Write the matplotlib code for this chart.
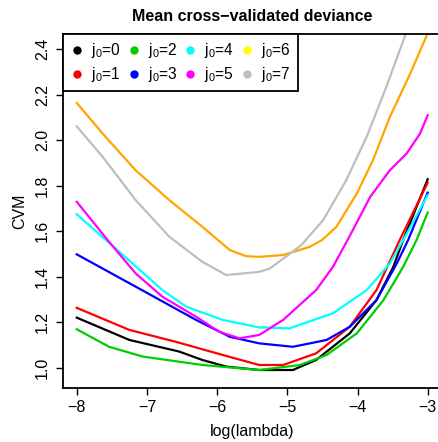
import matplotlib.pyplot as plt
from matplotlib.lines import Line2D

plt.rcParams['font.family'] = ['Liberation Sans', 'DejaVu Sans']
plt.rcParams['mathtext.fontset'] = 'custom'
plt.rcParams['mathtext.rm'] = 'Liberation Sans'

labels = ['0', '1', '2', '3', '4', '5', '6', '7']
legend_colors = ['black', 'red', '#00CD00', 'blue', 'cyan', 'magenta', 'yellow', '#BEBEBE']

# curves (log(lambda), CVM)
x0 = [-8, -7.25, -6.54, -6.21, -5.87, -5.4, -4.92, -4.78, -4.59, -4.11, -3.73, -3.49, -3.35, -3.0]
y0 = [1.221, 1.123, 1.072, 1.035, 1.006, 0.991, 0.991, 1.010, 1.035, 1.152, 1.298, 1.444, 1.561, 1.829]
x1 = [-8, -7.25, -6.59, -5.92, -5.4, -5.06, -4.59, -4.11, -3.73, -3.4, -3.0]
y1 = [1.264, 1.167, 1.115, 1.057, 1.013, 1.013, 1.064, 1.181, 1.342, 1.561, 1.814]
x2 = [-8, -7.54, -7.06, -6.21, -5.4, -4.82, -4.44, -4.01, -3.63, -3.35, -3.16, -3.0]
y2 = [1.170, 1.093, 1.050, 1.013, 0.991, 1.013, 1.057, 1.152, 1.298, 1.444, 1.561, 1.683]
x3 = [-8, -7.16, -6.3, -5.82, -5.4, -4.92, -4.44, -4.11, -3.73, -3.44, -3.28, -3.0]
y3 = [1.499, 1.357, 1.211, 1.137, 1.108, 1.093, 1.123, 1.181, 1.298, 1.459, 1.561, 1.770]
x4 = [-8, -7.55, -6.78, -6.44, -5.92, -5.4, -4.97, -4.35, -3.87, -3.54, -3.35, -3.0]
y4 = [1.675, 1.553, 1.342, 1.269, 1.211, 1.178, 1.174, 1.240, 1.342, 1.459, 1.561, 1.759]
x5 = [-8, -7.54, -7.16, -6.78, -6.3, -5.97, -5.68, -5.4, -5.06, -4.59, -4.35, -4.11,
      -3.82, -3.54, -3.3, -3.11, -3.0]
y5 = [1.730, 1.554, 1.415, 1.313, 1.225, 1.159, 1.130, 1.145, 1.211, 1.342, 1.444, 1.58,
      1.751, 1.868, 1.942, 2.029, 2.110]
x6 = [-8, -7.63, -7.16, -6.68, -6.21, -5.82, -5.59, -5.4, -5.06, -4.68, -4.51, -4.3,
      -4.01, -3.78, -3.54, -3.25, -3.0]
y6 = [2.164, 2.029, 1.868, 1.737, 1.620, 1.518, 1.491, 1.488, 1.496, 1.532, 1.561, 1.620,
      1.766, 1.912, 2.102, 2.292, 2.47]
x7 = [-8, -7.63, -7.16, -6.68, -6.21, -5.87, -5.4, -5.25, -4.97, -4.8, -4.49, -4.16,
      -3.87, -3.59, -3.32, -3.25]
y7 = [2.061, 1.927, 1.737, 1.576, 1.466, 1.408, 1.422, 1.437, 1.50, 1.54, 1.649, 1.825,
      2.015, 2.234, 2.461, 2.52]

series = [(x0, y0, 'black'), (x1, y1, 'red'), (x2, y2, '#00CD00'), (x3, y3, 'blue'),
          (x4, y4, 'cyan'), (x5, y5, 'magenta'), (x6, y6, 'orange'), (x7, y7, '#BEBEBE')]

fig = plt.figure(figsize=(4.38, 4.42), dpi=100)
ax = fig.add_axes([0.1432, 0.1222, 0.8653, 0.8009])

for xs, ys, c in series:
    ax.plot(xs, ys, color=c, lw=1.6, solid_joinstyle='round')

ax.set_xlim(-8.2, -2.8)
ax.set_ylim(0.912, 2.467)
ax.set_xticks([-8, -7, -6, -5, -4, -3])
ax.set_xticklabels(['\u22128', '\u22127', '\u22126', '\u22125', '\u22124', '\u22123'])
ax.set_yticks([1.0, 1.2, 1.4, 1.6, 1.8, 2.0, 2.2, 2.4])
ax.set_yticklabels(['1.0', '1.2', '1.4', '1.6', '1.8', '2.0', '2.2', '2.4'], rotation=90, va='center')
ax.tick_params(direction='out', length=5, width=1, labelsize=11.5, pad=4)
for s in ax.spines.values():
    s.set_linewidth(1.3)

ax.set_xlabel('log(lambda)', fontsize=11.5, labelpad=6)
ax.set_ylabel('CVM', fontsize=11.5, labelpad=6)
ax.set_title('Mean cross\u2212validated deviance', fontsize=11.5, fontweight='bold', pad=9)

handles = [Line2D([], [], marker='o', ls='none', color=c, markersize=5) for c in legend_colors]
leg = ax.legend(handles, [r'$\mathrm{j}_0$=' + l for l in labels], ncol=4, loc='upper left',
                bbox_to_anchor=(0, 1), borderaxespad=0, fancybox=False, framealpha=1,
                edgecolor='black', fontsize=11.2, handlelength=0.9, handletextpad=0.45,
                columnspacing=0.4, labelspacing=0.35, borderpad=0.45)
leg.get_frame().set_linewidth(1.3)

fig.savefig('out.png', dpi=100)
